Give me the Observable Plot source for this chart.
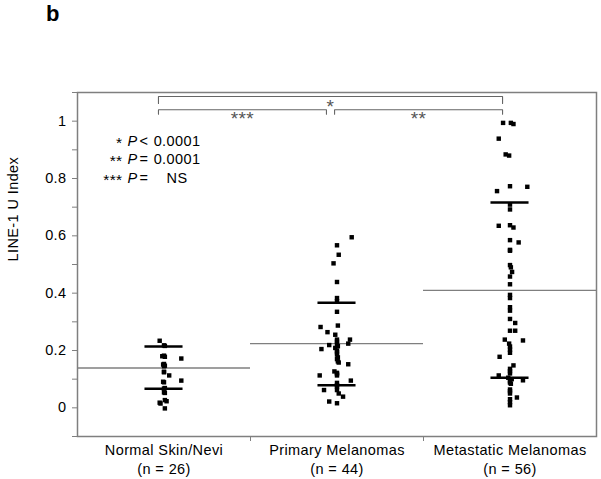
<!DOCTYPE html>
<html><head><meta charset="utf-8">
<script src="https://cdn.jsdelivr.net/npm/d3@7"></script>
<script src="https://cdn.jsdelivr.net/npm/@observablehq/plot@0.6"></script>
<style>
body{margin:0;background:#fff;font-family:Arial,"Liberation Sans",sans-serif;}
#title{height:40px;position:relative;}
#title span{position:absolute;left:46px;top:1px;font-weight:bold;font-size:22px;color:#000;}
</style></head><body>
<div id="title"><span>b</span></div>
<div id="chart"></div>
<script>
// ---- data ----
const groups = ["Normal Skin/Nevi", "Primary Melanomas", "Metastatic Melanomas"];
const groupN = [26, 44, 56];

// LINE-1 U Index values and their horizontal scatter (fraction of a group band)
const normalValues = [0.234, 0.218, 0.216, 0.180, 0.178, 0.182, 0.172, 0.151, 0.153, 0.145, 0.147, 0.124, 0.126, 0.113, 0.095, 0.091, 0.089, 0.067, 0.069, 0.052, 0.054, 0.027, 0.018, 0.015, 0.023, -0.002];
const normalJitter = [-0.025, 0.0, 0.005, -0.01, 0.005, 0.0, 0.1, -0.005, 0.0, 0.0, 0.005, 0.0, 0.0, 0.03, 0.1, -0.005, 0.0, 0.0, 0.005, 0.005, 0.0, 0.005, -0.025, -0.02, 0.015, 0.005];

const primaryValues = [0.595, 0.567, 0.534, 0.504, 0.439, 0.383, 0.372, 0.335, 0.282, 0.287, 0.264, 0.255, 0.238, 0.238, 0.231, 0.219, 0.222, 0.224, 0.215, 0.205, 0.209, 0.200, 0.194, 0.186, 0.176, 0.170, 0.162, 0.158, 0.152, 0.127, 0.122, 0.118, 0.113, 0.113, 0.095, 0.087, 0.079, 0.074, 0.062, 0.062, 0.050, 0.039, 0.022, 0.016];
const primaryJitter = [0.085, 0.0, 0.01, -0.02, 0.0, 0.0, 0.0, 0.0, -0.095, 0.005, -0.055, -0.01, 0.0, 0.075, 0.0, -0.045, 0.0, 0.065, 0.005, -0.09, -0.01, 0.0, 0.0, 0.0, 0.005, 0.0, 0.005, 0.01, 0.065, -0.015, 0.0, 0.0, 0.0, -0.1, 0.08, 0.0, 0.0, 0.0, -0.075, 0.0, 0.01, 0.035, -0.045, 0.0];

const metastaticValues = [0.994, 0.994, 0.990, 0.939, 0.884, 0.880, 0.773, 0.771, 0.756, 0.709, 0.692, 0.635, 0.637, 0.629, 0.585, 0.577, 0.551, 0.548, 0.498, 0.490, 0.474, 0.458, 0.431, 0.394, 0.383, 0.351, 0.339, 0.310, 0.296, 0.269, 0.269, 0.238, 0.235, 0.224, 0.214, 0.203, 0.192, 0.178, 0.148, 0.136, 0.128, 0.120, 0.113, 0.105, 0.100, 0.093, 0.096, 0.088, 0.084, 0.064, 0.058, 0.050, 0.036, 0.030, 0.020, 0.009];
const metastaticJitter = [-0.04, 0.005, 0.02, -0.065, -0.025, -0.005, 0.0, 0.1, -0.075, 0.0, 0.0, -0.065, 0.0, 0.02, 0.0, 0.05, 0.0, 0.0, 0.0, 0.005, 0.012, 0.0, 0.0, 0.0, 0.0, 0.0, 0.0, 0.0, 0.03, 0.0, 0.03, -0.03, 0.075, -0.005, 0.0, 0.0, 0.0, -0.06, 0.02, 0.0, 0.0, 0.0, -0.065, -0.01, 0.01, 0.0, 0.075, 0.0, 0.005, 0.0, 0.0, 0.0, 0.04, 0.0, 0.0, 0.0];

// group summary: mean (grey line) and mean ± SD (black bars)
const groupMean = [0.139, 0.224, 0.410];
const groupUpper = [0.214, 0.367, 0.716];
const groupLower = [0.067, 0.079, 0.105];

// significance brackets (x in group-band units, y in index units)
const bracketLeft = [0.468, 0.468, 1.486];
const bracketRight = [2.457, 1.439, 2.457];
const bracketTop = [1.086, 1.040, 1.040];
const bracketLeg = [1.062, 1.024, 1.024];
const bracketLabel = ["*", "***", "**"];
const bracketLabelY = [1.077, 1.032, 1.032];

// legend
const legendStars = ["*", "**", "***"];
const legendOps = ["<", "=", "="];
const legendValues = ["0.0001", "0.0001", "NS"];

// axis ticks
const yMajorTicks = [0, 0.2, 0.4, 0.6, 0.8, 1];
const yMinorTicks = [-0.1, 0.1, 0.3, 0.5, 0.7, 0.9, 1.1];
const groupBoundaries = [1, 2];

// ---- build tables ----
const points = [];
[[normalValues, normalJitter], [primaryValues, primaryJitter], [metastaticValues, metastaticJitter]].forEach(([vals, jit], g) => {
  vals.forEach((v, i) => points.push({g, v, j: jit[i]}));
});
const summary = groups.map((name, g) => ({g, mean: groupMean[g], upper: groupUpper[g], lower: groupLower[g]}));
const sdBars = summary.flatMap(d => [{g: d.g, y: d.upper}, {g: d.g, y: d.lower}]);
const brackets = bracketLabel.map((label, i) => ({id: i, a: bracketLeft[i], b: bracketRight[i], top: bracketTop[i], leg: bracketLeg[i], label, ly: bracketLabelY[i]}));
const bracketPath = brackets.flatMap(d => [
  {id: d.id, x: d.a, y: d.leg}, {id: d.id, x: d.a, y: d.top},
  {id: d.id, x: d.b, y: d.top}, {id: d.id, x: d.b, y: d.leg}
]);
const xLabels = groups.map((name, g) => ({x: g + 0.5, text: `${name}\n(n = ${groupN[g]})`}));

const grey = "#7f7f7f";
const fs = 14.5;
const rowGap = 18.5;
const legendMarks = legendStars.flatMap((s, i) => [
  Plot.text([s], {frameAnchor: "top-left", dx: 45, dy: 44 + rowGap * i, textAnchor: "end", lineAnchor: "top", fontSize: 15.5, fill: "#000", style: {letterSpacing: "1.6px"}}),
  Plot.text(["P"], {frameAnchor: "top-left", dx: 50, dy: 43 + rowGap * i, textAnchor: "start", lineAnchor: "top", fontSize: fs, fontStyle: "italic", fill: "#000"}),
  Plot.text([legendOps[i]], {frameAnchor: "top-left", dx: 62, dy: 43 + rowGap * i, textAnchor: "start", lineAnchor: "top", fontSize: fs, fill: "#000"}),
  Plot.text([legendValues[i]], {frameAnchor: "top-left", dx: 99.5, dy: 43 + rowGap * i, textAnchor: "middle", lineAnchor: "top", fontSize: fs, fill: "#000"})
]);

const chart = Plot.plot({
  width: 601,
  height: 439,
  marginTop: 52,
  marginBottom: 43,
  marginLeft: 77,
  marginRight: 5,
  x: {domain: [0, 3], axis: null},
  y: {domain: [-0.1, 1.1], axis: null},
  style: {fontFamily: "Arial, 'Liberation Sans', sans-serif", fontSize: "14.5px", letterSpacing: "0.4px", background: "#fff", color: "#000", overflow: "visible"},
  marks: [
    Plot.ruleY(summary, {y: "mean", x1: d => d.g, x2: d => d.g + 1, stroke: grey, strokeWidth: 1.3}),
    Plot.ruleY(sdBars, {y: "y", x1: d => d.g + 0.39, x2: d => d.g + 0.61, stroke: "#000", strokeWidth: 2.5}),
    Plot.dot(points, {x: d => d.g + 0.5 + d.j, y: "v", symbol: "square", r: 2.5, fill: "#000", stroke: null}),
    Plot.line(bracketPath, {x: "x", y: "y", z: "id", stroke: "#666", strokeWidth: 1.1}),
    Plot.text(brackets, {x: d => (d.a + d.b) / 2, y: "ly", text: "label", lineAnchor: "top", fill: "#555", fontSize: 19}),
    Plot.frame({stroke: grey, strokeWidth: 1.5}),
    Plot.axisY(yMajorTicks, {tickSize: 5, tickPadding: 6, stroke: grey, fill: "#000", fontSize: fs, tickFormat: d => String(+d.toFixed(1)), label: null}),
    Plot.axisY(yMinorTicks, {tickSize: 5, stroke: grey, tickFormat: () => "", label: null}),
    Plot.axisX(groupBoundaries, {tickSize: 5, stroke: grey, tickFormat: () => "", label: null}),
    Plot.text(xLabels, {x: "x", text: "text", frameAnchor: "bottom", lineAnchor: "top", dy: 4, lineHeight: 1.36, fontSize: fs, fill: "#000"}),
    Plot.text(["LINE-1 U Index"], {frameAnchor: "left", rotate: -90, dx: -64, dy: -3, fontSize: fs, fill: "#000"}),
    ...legendMarks
  ]
});
document.getElementById("chart").appendChild(chart);
</script>
</body></html>
